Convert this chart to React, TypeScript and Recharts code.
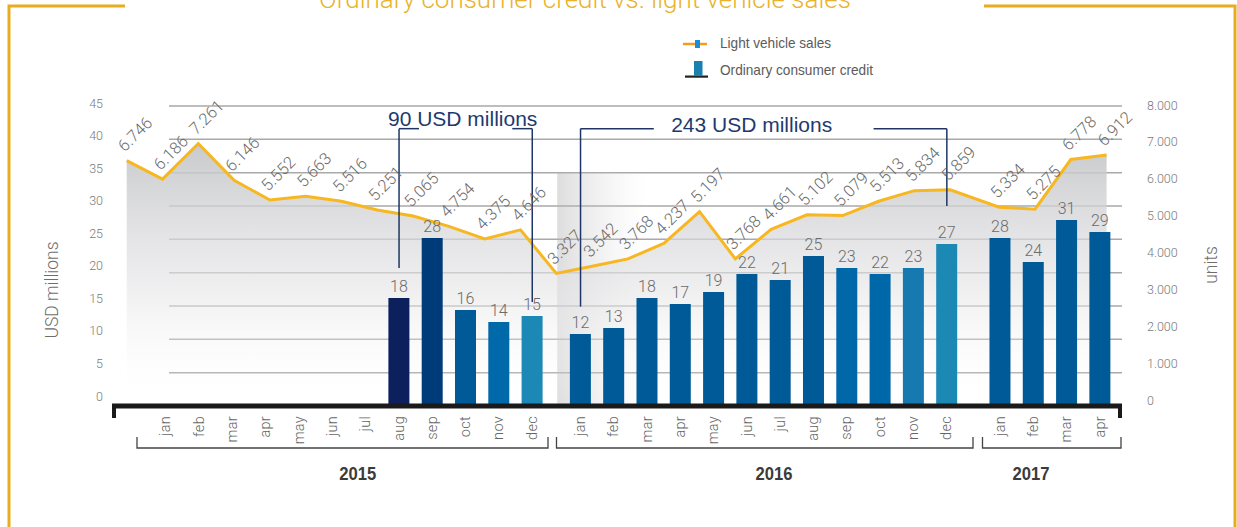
import React from 'react'
import {
  Area, Bar, CartesianGrid, Cell, ComposedChart, LabelList, Line, ReferenceArea, ReferenceLine, XAxis, YAxis,
} from 'recharts'

const YEARS = [2015, 2016, 2017]
const MONTHS_2015 = ['jan', 'feb', 'mar', 'apr', 'may', 'jun', 'jul', 'aug', 'sep', 'oct', 'nov', 'dec']
const MONTHS_2016 = ['jan', 'feb', 'mar', 'apr', 'may', 'jun', 'jul', 'aug', 'sep', 'oct', 'nov', 'dec']
const MONTHS_2017 = ['jan', 'feb', 'mar', 'apr']

// ordinary consumer credit, USD millions
const CREDIT_2015 = [null, null, null, null, null, null, null, 18, 28, 16, 14, 15]
const CREDIT_2016 = [12, 13, 18, 17, 19, 22, 21, 25, 23, 22, 23, 27]
const CREDIT_2017 = [28, 24, 31, 29]

// light vehicle sales, units
const SALES_2015 = [6746, 6186, 7261, 6146, 5552, 5663, 5516, 5251, 5065, 4754, 4375, 4646]
const SALES_2016 = [3327, 3542, 3768, 4237, 5197, 3768, 4661, 5102, 5079, 5513, 5834, 5859]
const SALES_2017 = [5334, 5275, 6778, 6912]

const LEFT_TICKS = [0, 5, 10, 15, 20, 25, 30, 35, 40, 45]
const RIGHT_TICKS = [0, 1000, 2000, 3000, 4000, 5000, 6000, 7000, 8000]

const COLORS_2015 = ['', '', '', '', '', '', '', '#0b205d', '#003b79', '#005a97', '#0069aa', '#1c88b5']
const COLORS_2016 = ['#005a97', '#005a97', '#005a97', '#005a97', '#005a97', '#005a97', '#005a97', '#005a97',
  '#0068a9', '#0068a9', '#167ab1', '#1c89b5']
const COLORS_2017 = ['#005a97', '#005a97', '#005a97', '#005a97']

// layout: where each year's january sits on the bar axis / line axis
const BAR_YEAR_START = [0, 12.45, 25.05]
const LINE_YEAR_START = [0, 12, 24.37]
const BAR_X_DOMAIN: [number, number] = [-1.62, 28.71]
const LINE_X_DOMAIN: [number, number] = [-0.411, 27.8]

const FONT = "Roboto, 'Liberation Sans', Arial, sans-serif"
const NARROW = "'Liberation Sans Narrow', 'Liberation Sans', Arial, sans-serif"

const groups = [
  { year: YEARS[0], months: MONTHS_2015, credit: CREDIT_2015, sales: SALES_2015, colors: COLORS_2015 },
  { year: YEARS[1], months: MONTHS_2016, credit: CREDIT_2016, sales: SALES_2016, colors: COLORS_2016 },
  { year: YEARS[2], months: MONTHS_2017, credit: CREDIT_2017, sales: SALES_2017, colors: COLORS_2017 },
]

const ROWS = groups.flatMap((g, gi) => g.months.map((m, i) => ({
  key: `${g.year}-${m}`,
  month: m,
  pos: BAR_YEAR_START[gi] + i,
  linePos: LINE_YEAR_START[gi] + i,
  credit: g.credit[i],
  sales: g.sales[i],
  color: g.colors[i],
})))

const posOf = (key: string) => ROWS.find((r) => r.key === key)!.pos

const fmtUnits = (v: number) => (v === 0 ? '0' : (v / 1000).toFixed(3))

const BRACKET_TOP = 41.6
const BRACKETS = [
  { text: '90 USD millions', from: '2015-aug', to: '2015-dec', fromEnd: 20.7, toEnd: 15.6, stub: 0.6, dx: -3, dy: -2.5 },
  { text: '243 USD millions', from: '2016-jan', to: '2016-dec', fromEnd: 14.9, toEnd: 30, stub: 2.2, dx: -12, dy: 3 },
]

function LeftTick(props: any) {
  const { x, y, payload } = props
  const v = payload.value as number
  const shift = -2.7 - 7.3 * (1 - v / 45)
  return (
    <text x={x + 51} y={y + shift} textAnchor="end" dominantBaseline="central"
      fontSize={12.5} fill="#7a7a7a" fontFamily={FONT} fontWeight={300}>{v}</text>
  )
}

function RightTick(props: any) {
  const { x, y, payload } = props
  const v = payload.value as number
  const shift = -1 - 5 * (1 - v / 8000)
  return (
    <text x={x + 25} y={y + shift} textAnchor="start" dominantBaseline="central"
      fontSize={12.5} fill="#7a7a7a" fontFamily={FONT} fontWeight={300}>{fmtUnits(v)}</text>
  )
}

function MonthTick(props: any) {
  const { x, y, payload } = props
  const row = ROWS.find((r) => Math.abs(r.pos - payload.value) < 1e-6)
  const tx = x + 4.5
  const ty = y + 10
  return (
    <text x={tx} y={ty} transform={`rotate(-90 ${tx} ${ty})`} textAnchor="end"
      fontSize={14.5} fill="#666" fontFamily={FONT} fontWeight={300} letterSpacing={0.3}>{row ? row.month : ''}</text>
  )
}

function CreditLabel(props: any) {
  const { x, y, width, value } = props
  if (value == null) return null
  return (
    <text x={x + width / 2} y={y - 6} textAnchor="middle" fontSize={16} fill="#6b6b6b"
      fontFamily={FONT} fontWeight={300}>{value}</text>
  )
}

function SalesLabel(props: any) {
  const { x, y, value } = props
  if (value == null) return null
  const tx = x - 2
  const ty = y - 8
  return (
    <text x={tx} y={ty} transform={`rotate(-45 ${tx} ${ty})`} fontSize={16.5} fill="#6b6b6b"
      fontFamily={FONT} fontWeight={300}>{fmtUnits(value)}</text>
  )
}

const bracketStroke = { stroke: '#1f3566', strokeWidth: 1.5 }

function bracketLines() {
  return BRACKETS.flatMap((b, i) => {
    const a = posOf(b.from)
    const c = posOf(b.to)
    const common = { xAxisId: 'bar', yAxisId: 'left', ifOverflow: 'visible' as const }
    return [
      <ReferenceLine key={`b${i}l`} {...common} {...bracketStroke} segment={[{ x: a, y: BRACKET_TOP }, { x: a, y: b.fromEnd }]} />,
      <ReferenceLine key={`b${i}ls`} {...common} {...bracketStroke} segment={[{ x: a, y: BRACKET_TOP }, { x: a + b.stub, y: BRACKET_TOP }]} />,
      <ReferenceLine key={`b${i}rs`} {...common} {...bracketStroke} segment={[{ x: c - b.stub, y: BRACKET_TOP }, { x: c, y: BRACKET_TOP }]} />,
      <ReferenceLine key={`b${i}r`} {...common} {...bracketStroke} segment={[{ x: c, y: BRACKET_TOP }, { x: c, y: b.toEnd }]} />,
      <ReferenceLine key={`b${i}t`} {...common} stroke="none" segment={[{ x: a, y: BRACKET_TOP }, { x: c, y: BRACKET_TOP }]}
        label={(p: any) => {
          const vb = p.viewBox || {}
          return (
            <text x={vb.x + (vb.width || 0) / 2 + b.dx} y={vb.y + b.dy} textAnchor="middle" fontSize={21}
              fill="#1d3a70" fontFamily="'Liberation Sans', Arial, sans-serif">{b.text}</text>
          )
        }} />,
    ]
  })
}

function Overlay() {
  const gold = '#e6ad22'
  const yearBrackets = [[137, 548, 357.7], [556.5, 973, 774], [982.5, 1121, 1031]]
  return (
    <svg width={1237} height={527} style={{ position: 'absolute', left: 0, top: 0, pointerEvents: 'none' }}>
      <path d="M9 527 L9 6 L125 6" fill="none" stroke={gold} strokeWidth={3} />
      <path d="M984 6 L1235 6 L1235 527" fill="none" stroke={gold} strokeWidth={3} />
      <text x={585} y={7.5} textAnchor="middle" fontSize={26} fill="#e9b32b" fontFamily={FONT} fontWeight={300}>
        Ordinary consumer credit vs. light vehicle sales
      </text>

      <line x1={683} y1={44} x2={707} y2={44} stroke="#f39c1f" strokeWidth={2.5} />
      <rect x={695} y={40} width={5} height={8} fill="#1b8fcf" />
      <text x={720} y={47.5} fontSize={15} fill="#5b5b5b" fontFamily={NARROW}
        textLength={111} lengthAdjust="spacingAndGlyphs">Light vehicle sales</text>
      <rect x={694} y={61} width={8.5} height={14.5} fill="#1a80b0" />
      <rect x={685} y={75.5} width={23} height={2.2} fill="#222" />
      <text x={720} y={74.5} fontSize={15} fill="#5b5b5b" fontFamily={NARROW}
        textLength={153} lengthAdjust="spacingAndGlyphs">Ordinary consumer credit</text>

      <text x={58} y={290} transform="rotate(-90 58 290)" textAnchor="middle" fontSize={17.5} fill="#6d6d6d"
        fontFamily={FONT} fontWeight={300}>USD millions</text>
      <text x={1217} y={265} transform="rotate(-90 1217 265)" textAnchor="middle" fontSize={17.5} fill="#6d6d6d"
        fontFamily={FONT} fontWeight={300}>units</text>

      <rect x={112} y={404} width={4} height={14} fill="#1a1a1a" />
      <rect x={1118} y={404} width={4} height={14} fill="#1a1a1a" />

      {yearBrackets.map(([a, b, mid], i) => (
        <g key={YEARS[i]}>
          <path d={`M${a} 437 L${a} 448 L${b} 448 L${b} 437`} fill="none" stroke="#444" strokeWidth={1.3} />
          <text x={mid} y={480} textAnchor="middle" fontSize={19} fontWeight="bold" fill="#3b3b3b"
            fontFamily={NARROW} textLength={37} lengthAdjust="spacingAndGlyphs">{YEARS[i]}</text>
        </g>
      ))}
    </svg>
  )
}

export default function App() {
  const barTicks = ROWS.map((r) => r.pos)
  return (
    <div style={{ position: 'absolute', left: 0, top: 0, width: 1237, height: 527, background: '#fff' }}>
      <ComposedChart width={1237} height={527} data={ROWS} margin={{ top: 106, right: 25, bottom: 81, left: 0 }}>
        <defs>
          <linearGradient id="shade" x1="0" y1="0" x2="0" y2="1">
            <stop offset="0%" stopColor="#c3c4c7" stopOpacity={0.9} />
            <stop offset="55%" stopColor="#e4e4e6" stopOpacity={0.6} />
            <stop offset="100%" stopColor="#ffffff" stopOpacity={0} />
          </linearGradient>
          <linearGradient id="panel" x1="0" y1="0" x2="1" y2="0">
            <stop offset="0%" stopColor="#b4b4b7" stopOpacity={0.45} />
            <stop offset="100%" stopColor="#dcdcde" stopOpacity={0} />
          </linearGradient>
        </defs>

        <XAxis xAxisId="bar" type="number" dataKey="pos" domain={BAR_X_DOMAIN} ticks={barTicks} interval={0}
          tick={<MonthTick />} tickLine={false} axisLine={false} tickSize={0} tickMargin={0} height={40} />
        <XAxis xAxisId="line" type="number" dataKey="linePos" domain={LINE_X_DOMAIN} hide />
        <YAxis yAxisId="left" orientation="left" type="number" domain={[0, 45]} ticks={LEFT_TICKS} interval={0}
          allowDataOverflow tick={<LeftTick />} tickLine={false} axisLine={false} tickSize={0} tickMargin={0} width={112} />
        <YAxis yAxisId="right" orientation="right" type="number" domain={[0, 8000]} ticks={RIGHT_TICKS} interval={0}
          allowDataOverflow tick={<RightTick />} tickLine={false} axisLine={false} tickSize={0} tickMargin={0} width={90} />
        <YAxis yAxisId="barY" type="number" domain={[0, 50]} hide />
        <YAxis yAxisId="lineY" type="number" domain={[-690, 8400]} hide />

        <CartesianGrid xAxisId="bar" yAxisId="left" vertical={false} stroke="#a9a9a9" strokeWidth={1.5}
          x={169} width={953} />

        <ReferenceArea xAxisId="bar" yAxisId="left" x1={posOf('2016-jan') - 0.7} x2={posOf('2016-mar')} y1={0} y2={35}
          fill="url(#panel)" fillOpacity={1} stroke="none" />

        <Area xAxisId="line" yAxisId="lineY" dataKey="sales" type="linear" stroke="none" fill="url(#shade)"
          fillOpacity={1} baseValue="dataMin" isAnimationActive={false} />

        <Bar xAxisId="bar" yAxisId="barY" dataKey="credit" barSize={21} isAnimationActive={false}>
          {ROWS.map((r) => <Cell key={r.key} fill={r.color || 'transparent'} />)}
          <LabelList dataKey="credit" content={<CreditLabel />} />
        </Bar>

        <Line xAxisId="line" yAxisId="lineY" dataKey="sales" type="linear" stroke="#f7b720" strokeWidth={3}
          dot={false} activeDot={false} isAnimationActive={false}>
          <LabelList dataKey="sales" content={<SalesLabel />} />
        </Line>

        <ReferenceLine xAxisId="bar" yAxisId="left" y={0} stroke="#1a1a1a" strokeWidth={5} />
        {bracketLines()}
      </ComposedChart>
      <Overlay />
    </div>
  )
}
